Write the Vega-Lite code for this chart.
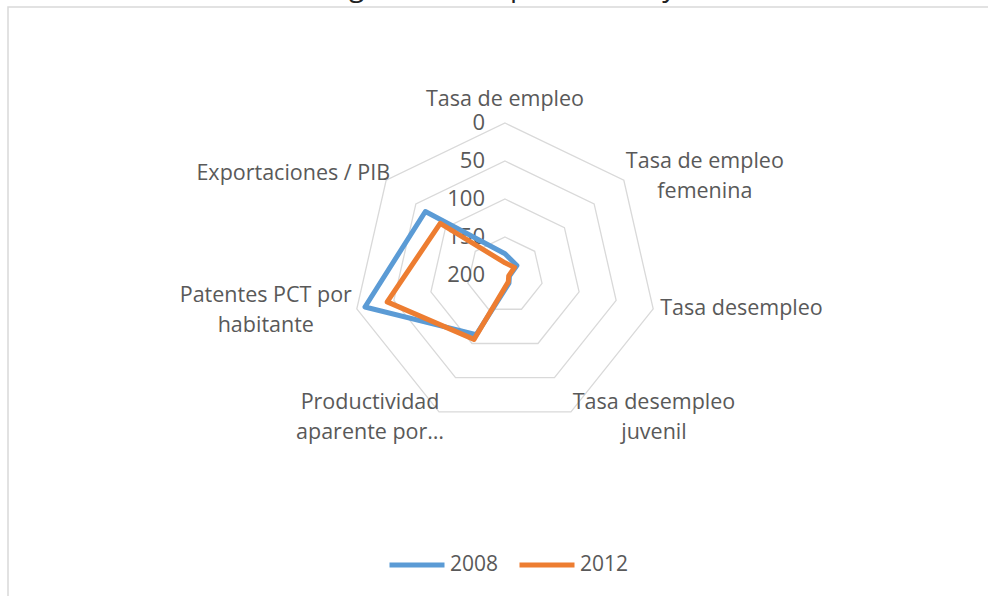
{
  "$schema": "https://vega.github.io/schema/vega-lite/v6.json",
  "autosize": "none",
  "width": 1000,
  "height": 610,
  "padding": {"left": 8, "top": 7, "right": -20, "bottom": -21},
  "background": "white",
  "config": {
    "view": {"stroke": "#d9d9d9", "strokeWidth": 1.5},
    "font": "Open Sans"
  },
  "title": {
    "text": "Ranking frente a España (2008 y 2012)",
    "font": "Open Sans",
    "fontSize": 28,
    "fontWeight": "normal",
    "color": "#222222",
    "anchor": "middle",
    "offset": 0,
    "dy": -5
  },
  "datasets": {
    "seriesData": [
      {"cat": "Tasa de empleo", "idx": 0, "year": "2008", "value": 172},
      {"cat": "Tasa de empleo femenina", "idx": 1, "year": "2008", "value": 180},
      {"cat": "Tasa desempleo", "idx": 2, "year": "2008", "value": 194},
      {"cat": "Tasa desempleo juvenil", "idx": 3, "year": "2008", "value": 188},
      {"cat": "Productividad aparente por ocupado", "idx": 4, "year": "2008", "value": 113},
      {"cat": "Patentes PCT por habitante", "idx": 5, "year": "2008", "value": 11},
      {"cat": "Exportaciones / PIB", "idx": 6, "year": "2008", "value": 66},
      {"cat": "Tasa de empleo", "idx": 0, "year": "2012", "value": 184},
      {"cat": "Tasa de empleo femenina", "idx": 1, "year": "2012", "value": 184},
      {"cat": "Tasa desempleo", "idx": 2, "year": "2012", "value": 195},
      {"cat": "Tasa desempleo juvenil", "idx": 3, "year": "2012", "value": 190},
      {"cat": "Productividad aparente por ocupado", "idx": 4, "year": "2012", "value": 106},
      {"cat": "Patentes PCT por habitante", "idx": 5, "year": "2012", "value": 41},
      {"cat": "Exportaciones / PIB", "idx": 6, "year": "2012", "value": 91}
    ],
    "ringData": [
      {"level": 0, "idx": 0}, {"level": 0, "idx": 1}, {"level": 0, "idx": 2}, {"level": 0, "idx": 3}, {"level": 0, "idx": 4}, {"level": 0, "idx": 5}, {"level": 0, "idx": 6},
      {"level": 50, "idx": 0}, {"level": 50, "idx": 1}, {"level": 50, "idx": 2}, {"level": 50, "idx": 3}, {"level": 50, "idx": 4}, {"level": 50, "idx": 5}, {"level": 50, "idx": 6},
      {"level": 100, "idx": 0}, {"level": 100, "idx": 1}, {"level": 100, "idx": 2}, {"level": 100, "idx": 3}, {"level": 100, "idx": 4}, {"level": 100, "idx": 5}, {"level": 100, "idx": 6},
      {"level": 150, "idx": 0}, {"level": 150, "idx": 1}, {"level": 150, "idx": 2}, {"level": 150, "idx": 3}, {"level": 150, "idx": 4}, {"level": 150, "idx": 5}, {"level": 150, "idx": 6}
    ],
    "tickData": [
      {"level": "0", "v": 0}, {"level": "50", "v": 50}, {"level": "100", "v": 100}, {"level": "150", "v": 150}, {"level": "200", "v": 200}
    ],
    "labelData": [
      {"idx": 0, "label": "Tasa de empleo"},
      {"idx": 1, "label": "Tasa de empleo\nfemenina"},
      {"idx": 2, "label": "Tasa desempleo"},
      {"idx": 3, "label": "Tasa desempleo\njuvenil"},
      {"idx": 4, "label": "Productividad\naparente por…"},
      {"idx": 5, "label": "Patentes PCT por\nhabitante"},
      {"idx": 6, "label": "Exportaciones / PIB"}
    ]
  },
  "layer": [
    {
      "data": {"name": "ringData"},
      "transform": [
        {"calculate": "(200 - datum.level) / 200", "as": "r"},
        {"calculate": "datum.r * sin(datum.idx * 2 * PI / 7)", "as": "px"},
        {"calculate": "datum.r * cos(datum.idx * 2 * PI / 7)", "as": "py"}
      ],
      "mark": {"type": "line", "interpolate": "linear-closed", "stroke": "#d9d9d9", "strokeWidth": 1.3},
      "encoding": {
        "x": {"field": "px", "type": "quantitative", "scale": {"domain": [-3.2697, 3.3092], "nice": false, "zero": false}, "axis": null},
        "y": {"field": "py", "type": "quantitative", "scale": {"domain": [-2.25, 1.7632], "nice": false, "zero": false}, "axis": null},
        "detail": {"field": "level", "type": "nominal"},
        "order": {"field": "idx", "type": "quantitative"}
      }
    },
    {
      "data": {"name": "tickData"},
      "transform": [
        {"calculate": "0", "as": "px"},
        {"calculate": "(200 - datum.v) / 200", "as": "py"}
      ],
      "mark": {"type": "text", "align": "right", "baseline": "middle", "dx": -20, "fontSize": 22, "color": "#595959", "font": "Open Sans"},
      "encoding": {
        "x": {"field": "px", "type": "quantitative", "axis": null},
        "y": {"field": "py", "type": "quantitative", "axis": null},
        "text": {"field": "level", "type": "nominal"}
      }
    },
    {
      "data": {"name": "labelData"},
      "transform": [
        {"filter": "datum.idx == 0"},
        {"calculate": "sin(datum.idx * 2 * PI / 7)", "as": "px"},
        {"calculate": "cos(datum.idx * 2 * PI / 7)", "as": "py"}
      ],
      "mark": {"type": "text", "align": "center", "baseline": "middle", "dy": -23, "fontSize": 21.5, "lineHeight": 30, "lineBreak": "\n", "color": "#595959", "font": "Open Sans"},
      "encoding": {
        "x": {"field": "px", "type": "quantitative", "axis": null},
        "y": {"field": "py", "type": "quantitative", "axis": null},
        "text": {"field": "label", "type": "nominal"}
      }
    },
    {
      "data": {"name": "labelData"},
      "transform": [
        {"filter": "datum.idx == 1"},
        {"calculate": "sin(datum.idx * 2 * PI / 7)", "as": "px"},
        {"calculate": "cos(datum.idx * 2 * PI / 7)", "as": "py"}
      ],
      "mark": {"type": "text", "align": "center", "baseline": "middle", "dx": 81, "dy": -18, "fontSize": 21.5, "lineHeight": 30, "lineBreak": "\n", "color": "#595959", "font": "Open Sans"},
      "encoding": {
        "x": {"field": "px", "type": "quantitative", "axis": null},
        "y": {"field": "py", "type": "quantitative", "axis": null},
        "text": {"field": "label", "type": "nominal"}
      }
    },
    {
      "data": {"name": "labelData"},
      "transform": [
        {"filter": "datum.idx == 2"},
        {"calculate": "sin(datum.idx * 2 * PI / 7)", "as": "px"},
        {"calculate": "cos(datum.idx * 2 * PI / 7)", "as": "py"}
      ],
      "mark": {"type": "text", "align": "left", "baseline": "middle", "dx": 7, "dy": 0, "fontSize": 21.5, "lineHeight": 30, "lineBreak": "\n", "color": "#595959", "font": "Open Sans"},
      "encoding": {
        "x": {"field": "px", "type": "quantitative", "axis": null},
        "y": {"field": "py", "type": "quantitative", "axis": null},
        "text": {"field": "label", "type": "nominal"}
      }
    },
    {
      "data": {"name": "labelData"},
      "transform": [
        {"filter": "datum.idx == 3"},
        {"calculate": "sin(datum.idx * 2 * PI / 7)", "as": "px"},
        {"calculate": "cos(datum.idx * 2 * PI / 7)", "as": "py"}
      ],
      "mark": {"type": "text", "align": "center", "baseline": "middle", "dx": 83, "dy": -9, "fontSize": 21.5, "lineHeight": 30, "lineBreak": "\n", "color": "#595959", "font": "Open Sans"},
      "encoding": {
        "x": {"field": "px", "type": "quantitative", "axis": null},
        "y": {"field": "py", "type": "quantitative", "axis": null},
        "text": {"field": "label", "type": "nominal"}
      }
    },
    {
      "data": {"name": "labelData"},
      "transform": [
        {"filter": "datum.idx == 4"},
        {"calculate": "sin(datum.idx * 2 * PI / 7)", "as": "px"},
        {"calculate": "cos(datum.idx * 2 * PI / 7)", "as": "py"}
      ],
      "mark": {"type": "text", "align": "center", "baseline": "middle", "dx": -69, "dy": -9, "fontSize": 21.5, "lineHeight": 30, "lineBreak": "\n", "color": "#595959", "font": "Open Sans"},
      "encoding": {
        "x": {"field": "px", "type": "quantitative", "axis": null},
        "y": {"field": "py", "type": "quantitative", "axis": null},
        "text": {"field": "label", "type": "nominal"}
      }
    },
    {
      "data": {"name": "labelData"},
      "transform": [
        {"filter": "datum.idx == 5"},
        {"calculate": "sin(datum.idx * 2 * PI / 7)", "as": "px"},
        {"calculate": "cos(datum.idx * 2 * PI / 7)", "as": "py"}
      ],
      "mark": {"type": "text", "align": "center", "baseline": "middle", "dx": -91, "dy": -13, "fontSize": 21.5, "lineHeight": 30, "lineBreak": "\n", "color": "#595959", "font": "Open Sans"},
      "encoding": {
        "x": {"field": "px", "type": "quantitative", "axis": null},
        "y": {"field": "py", "type": "quantitative", "axis": null},
        "text": {"field": "label", "type": "nominal"}
      }
    },
    {
      "data": {"name": "labelData"},
      "transform": [
        {"filter": "datum.idx == 6"},
        {"calculate": "sin(datum.idx * 2 * PI / 7)", "as": "px"},
        {"calculate": "cos(datum.idx * 2 * PI / 7)", "as": "py"}
      ],
      "mark": {"type": "text", "align": "right", "baseline": "middle", "dx": 4, "dy": -6, "fontSize": 21.5, "lineHeight": 30, "lineBreak": "\n", "color": "#595959", "font": "Open Sans"},
      "encoding": {
        "x": {"field": "px", "type": "quantitative", "axis": null},
        "y": {"field": "py", "type": "quantitative", "axis": null},
        "text": {"field": "label", "type": "nominal"}
      }
    },
    {
      "data": {"name": "seriesData"},
      "transform": [
        {"calculate": "(200 - datum.value) / 200", "as": "r"},
        {"calculate": "datum.r * sin(datum.idx * 2 * PI / 7)", "as": "px"},
        {"calculate": "datum.r * cos(datum.idx * 2 * PI / 7)", "as": "py"}
      ],
      "mark": {"type": "line", "interpolate": "linear-closed", "strokeWidth": 5, "strokeJoin": "round"},
      "encoding": {
        "x": {"field": "px", "type": "quantitative", "axis": null},
        "y": {"field": "py", "type": "quantitative", "axis": null},
        "order": {"field": "idx", "type": "quantitative"},
        "color": {
          "field": "year",
          "type": "nominal",
          "scale": {"domain": ["2008", "2012"], "range": ["#5B9BD5", "#ED7D31"]},
          "legend": {
            "orient": "none",
            "legendX": 379,
            "legendY": 528,
            "direction": "horizontal",
            "title": null,
            "symbolType": "stroke",
            "symbolSize": 3025,
            "symbolStrokeWidth": 5,
            "labelFontSize": 21,
            "labelColor": "#595959",
            "labelFont": "Open Sans",
            "labelOffset": 3,
            "columnPadding": 10,
            "padding": 0
          }
        }
      }
    }
  ]
}
